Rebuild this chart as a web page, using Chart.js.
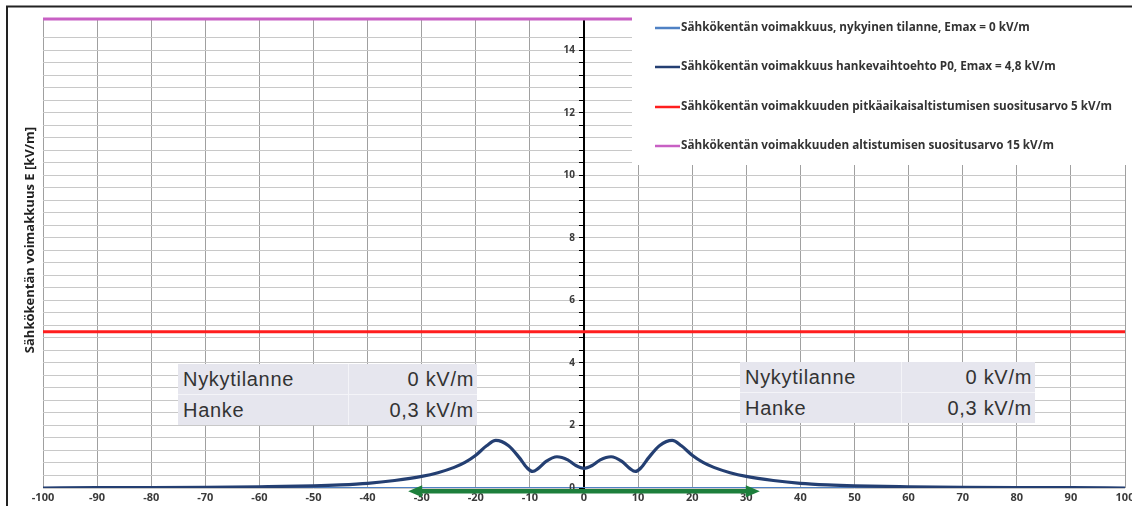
<!DOCTYPE html>
<html>
<head>
<meta charset="utf-8">
<script src="https://cdn.jsdelivr.net/npm/chart.js@4.4.1/dist/chart.umd.min.js"></script>
<style>
  html, body { margin: 0; padding: 0; background: #fff; }
  #wrap { position: relative; width: 1132px; height: 506px; overflow: hidden; }
  #chart { position: absolute; left: 0; top: 0; }
  .tbl {
    position: absolute; background: #e6e6ee;
    font-family: "Liberation Sans", Arial, sans-serif; font-size: 20px; letter-spacing: 0.7px; color: #333;
    display: grid; grid-template-rows: 30px 31px;
  }
  .tbl .row { display: grid; border-top: 1px solid #f4f4f8; }
  .tbl .row:first-child { border-top: none; }
  .tbl .c1 { padding-left: 5px; line-height: 30px; border-right: 1px solid #f4f4f8; white-space: nowrap; }
  .tbl .c2 { text-align: right; padding-right: 3px; line-height: 30px; white-space: nowrap; }
</style>
</head>
<body>
<div id="wrap">
  <canvas id="chart" width="1132" height="506"></canvas>
  <div class="tbl" id="tblLeft" style="left:178px; top:364px; width:299px; height:61px;"></div>
  <div class="tbl" id="tblRight" style="left:740px; top:362px; width:295px; height:61px;"></div>
</div>
<script>
// Distance from the line centre [m]
const distance = [-100, -90, -80, -70, -60, -50, -45, -40, -35, -30, -27, -24, -22, -20, -18, -16.3, -14, -12, -10.5, -9.5, -8.5, -7, -5, -3, -1.5, 0,
                  1.5, 3, 5, 7, 8.5, 9.5, 10.5, 12, 14, 16.3, 18, 20, 22, 24, 27, 30, 35, 40, 45, 50, 60, 70, 80, 90, 100];
// Electric field, project alternative P0 [kV/m]
const fieldProject = [0.00, 0.01, 0.01, 0.02, 0.04, 0.07, 0.10, 0.15, 0.24, 0.37, 0.49, 0.66, 0.82, 1.05, 1.35, 1.52, 1.36, 0.98, 0.64, 0.53, 0.62, 0.85, 1.00, 0.90, 0.72, 0.63,
                      0.72, 0.90, 1.00, 0.85, 0.62, 0.53, 0.64, 0.98, 1.36, 1.52, 1.35, 1.05, 0.82, 0.66, 0.49, 0.37, 0.24, 0.15, 0.10, 0.07, 0.04, 0.02, 0.01, 0.01, 0.00];
// Electric field, present situation [kV/m]
const distanceCurrent = [-100, 100];
const fieldCurrent = [0, 0];
// Recommended limits [kV/m]
const limitLongTerm = [5, 5];
const limitExposure = [15, 15];
// Right-of-way width marker [m]
const corridor = [-32.5, 32.5];

const seriesLabels = [
  "Sähkökentän voimakkuus, nykyinen tilanne, Emax = 0 kV/m",
  "Sähkökentän voimakkuus hankevaihtoehto P0, Emax = 4,8 kV/m",
  "Sähkökentän voimakkuuden pitkäaikaisaltistumisen suositusarvo 5 kV/m",
  "Sähkökentän voimakkuuden altistumisen suositusarvo 15 kV/m"
];
const seriesColors = ["#4f81c4", "#243f72", "#ff1e1e", "#c860c4"];
const yTitle = "Sähkökentän voimakkuus E [kV/m]";
const tableRows = [["Nykytilanne", "0 kV/m"], ["Hanke", "0,3 kV/m"]];

const FONT = "'Open Sans', 'DejaVu Sans', sans-serif";

function fillTable(id) {
  const el = document.getElementById(id);
  tableRows.forEach(r => {
    const row = document.createElement('div');
    row.className = 'row';
    row.style.gridTemplateColumns = id === 'tblLeft' ? '171px 1fr' : '162px 1fr';
    row.innerHTML = '<div class="c1">' + r[0] + '</div><div class="c2">' + r[1] + '</div>';
    el.appendChild(row);
  });
}
fillTable('tblLeft');
fillTable('tblRight');

const pts = (xs, ys) => xs.map((x, i) => ({ x: x, y: ys[i] }));
const isMajor = v => Math.abs(v / 2 - Math.round(v / 2)) < 1e-6;

const decor = {
  id: 'decor',
  beforeDraw(chart) {
    const c = chart.ctx;
    c.save();
    c.fillStyle = '#fff';
    c.fillRect(0, 0, chart.width, chart.height);
    c.restore();
  },
  afterDraw(chart) {
    const c = chart.ctx;
    const xs = chart.scales.x, ys = chart.scales.y;
    c.save();

    // y tick labels, left of the centre axis
    const axisX = xs.getPixelForValue(0);
    c.font = "bold 10px " + FONT;
    c.fillStyle = '#3a3a3a';
    c.textAlign = 'right';
    c.textBaseline = 'middle';
    ys.ticks.forEach(t => {
      if (isMajor(t.value) && t.value <= 14) {
        c.fillText(String(Math.round(t.value)), axisX - 9, ys.getPixelForValue(t.value));
      }
    });

    // legend panel
    c.fillStyle = '#fff';
    c.fillRect(632, 9, chart.width - 632, 156);
    c.font = "bold 11.7px " + FONT;
    c.textBaseline = 'middle';
    c.textAlign = 'left';
    const rowY = [28, 67, 107, 146];
    chart.data.datasets.slice(0, 4).forEach((ds, i) => {
      c.strokeStyle = ds.borderColor;
      c.lineWidth = 2.5;
      c.beginPath();
      c.moveTo(655, rowY[i]);
      c.lineTo(680, rowY[i]);
      c.stroke();
      c.fillStyle = '#333';
      c.fillText(ds.label, 681, rowY[i]);
    });

    // right-of-way arrow
    const ay = ys.getPixelForValue(-0.1);
    const x1 = xs.getPixelForValue(corridor[0]);
    const x2 = xs.getPixelForValue(corridor[1]);
    c.strokeStyle = '#1d7f3c';
    c.fillStyle = '#1d7f3c';
    c.lineWidth = 4.5;
    c.beginPath();
    c.moveTo(x1 + 10, ay);
    c.lineTo(x2 - 10, ay);
    c.stroke();
    c.beginPath();
    c.moveTo(x1, ay); c.lineTo(x1 + 14, ay - 6); c.lineTo(x1 + 14, ay + 6); c.closePath();
    c.fill();
    c.beginPath();
    c.moveTo(x2, ay); c.lineTo(x2 - 14, ay - 6); c.lineTo(x2 - 14, ay + 6); c.closePath();
    c.fill();

    // y axis title
    c.translate(30, 240);
    c.rotate(-Math.PI / 2);
    c.font = "bold 13px " + FONT;
    c.fillStyle = '#222';
    c.textAlign = 'center';
    c.fillText(yTitle, 0, 0);
    c.setTransform(1, 0, 0, 1, 0, 0);

    // frame
    c.strokeStyle = '#222';
    c.lineWidth = 2;
    c.beginPath();
    c.moveTo(7, chart.height);
    c.lineTo(7, 6.5);
    c.lineTo(chart.width, 6.5);
    c.stroke();
    c.restore();
  }
};

new Chart(document.getElementById('chart'), {
  type: 'line',
  data: {
    datasets: [
      { label: seriesLabels[0], data: pts(distanceCurrent, fieldCurrent), borderColor: seriesColors[0], borderWidth: 2, pointRadius: 0, order: 2 },
      { label: seriesLabels[1], data: pts(distance, fieldProject), borderColor: seriesColors[1], borderWidth: 3.2, pointRadius: 0, cubicInterpolationMode: 'monotone', order: 1 },
      { label: seriesLabels[2], data: pts(distanceCurrent, limitLongTerm), borderColor: seriesColors[2], borderWidth: 3, pointRadius: 0, order: 3 },
      { label: seriesLabels[3], data: pts(distanceCurrent, limitExposure), borderColor: seriesColors[3], borderWidth: 3, pointRadius: 0, order: 3, clip: false }
    ]
  },
  options: {
    responsive: false,
    animation: false,
    layout: { padding: { left: 43, right: 7, top: 19, bottom: 0 } },
    plugins: { legend: { display: false }, tooltip: { enabled: false } },
    scales: {
      x: {
        type: 'linear', min: -100, max: 100,
        ticks: { stepSize: 10, autoSkip: false, maxRotation: 0, padding: 3, color: '#3a3a3a',
                 font: { family: FONT, size: 11, weight: 'bold' } },
        grid: { color: '#a0a0a0', drawTicks: false },
        border: { display: false },
        afterFit(s) { s.paddingLeft = 0; s.paddingRight = 0; s.height = 18; }
      },
      y: {
        type: 'linear', min: 0, max: 15, position: { x: 0 },
        ticks: { stepSize: 0.4, autoSkip: false, display: false },
        grid: { color: '#c8c8c8', tickColor: '#000', tickLength: 4 },
        border: { color: '#000', width: 2 }
      }
    }
  },
  plugins: [decor]
});
</script>
</body>
</html>
